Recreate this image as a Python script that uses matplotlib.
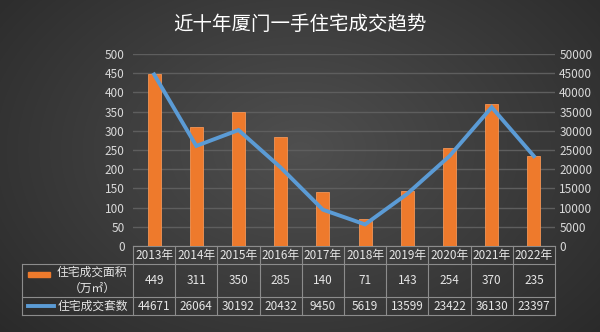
import numpy as np
import matplotlib
matplotlib.use("Agg")
import matplotlib.pyplot as plt
from matplotlib.lines import Line2D
from matplotlib.patches import Rectangle

plt.rcParams['font.family'] = ['Noto Sans CJK SC', 'DejaVu Sans']

years = ["2013年", "2014年", "2015年", "2016年", "2017年",
         "2018年", "2019年", "2020年", "2021年", "2022年"]
area = [449, 311, 350, 285, 140, 71, 143, 254, 370, 235]
units = [44671, 26064, 30192, 20432, 9450, 5619, 13599, 23422, 36130, 23397]
area_label = "住宅成交面积\n（万㎡）"
units_label = "住宅成交套数"
title = "近十年厦门一手住宅成交趋势"

W, H = 600, 332
fig = plt.figure(figsize=(W / 100, H / 100), dpi=100)

# radial dark background
yy, xx = np.mgrid[0:H, 0:W]
r = np.sqrt(((xx - W * 0.5) / (W * 0.6)) ** 2 + ((yy - H * 0.45) / (H * 0.75)) ** 2)
g = np.clip(0.31 - 0.13 * r, 0.15, 0.32)
bg = np.dstack([g, g, g])
bgax = fig.add_axes([0, 0, 1, 1])
bgax.imshow(bg, extent=[0, W, H, 0], aspect='auto')
bgax.set_xlim(0, W)
bgax.set_ylim(H, 0)
bgax.axis('off')

px0, px1 = 133, 555
py_top, py_bot = 54, 246
ax = fig.add_axes([px0 / W, 1 - py_bot / H, (px1 - px0) / W, (py_bot - py_top) / H])
ax.patch.set_alpha(0)
x = np.arange(len(years))
ax.bar(x, area, width=0.31, color='#EE7A2C', edgecolor='#F39556', linewidth=0.6, zorder=3)
ax.set_xlim(-0.5, len(years) - 0.5)
ax.set_ylim(0, 500)
ax.set_yticks(np.arange(0, 501, 50))
ax.yaxis.grid(True, color='#5e5e5e', linewidth=1.0, zorder=0)
ax.set_axisbelow(True)
ax.tick_params(axis='y', length=0, labelsize=8.5, labelcolor='#d9d9d9', pad=6)
ax.tick_params(axis='x', length=0, labelbottom=False)
for s in ax.spines.values():
    s.set_visible(False)

ax2 = ax.twinx()
ax2.plot(x, units, color='#5B9BD5', linewidth=2.8, zorder=4, solid_joinstyle='miter')
ax2.set_ylim(0, 50000)
ax2.set_yticks(np.arange(0, 50001, 5000))
ax2.tick_params(axis='y', length=0, labelsize=8.5, labelcolor='#d9d9d9', pad=3)
for s in ax2.spines.values():
    s.set_visible(False)

fig.text(0.5, 1 - 25 / H, title, ha='center', va='center', fontsize=14, color='white')

# data table under the plot
lc = '#8c8c8c'
colw = (px1 - px0) / len(years)
rows = [246, 264, 297, 315]
lx0 = 22

def hline(xa, xb, y):
    bgax.add_line(Line2D([xa, xb], [y, y], color=lc, linewidth=0.8))

def vline(xp, ya, yb):
    bgax.add_line(Line2D([xp, xp], [ya, yb], color=lc, linewidth=0.8))

hline(px0, px1, rows[0])
hline(lx0, px1, rows[1])
hline(lx0, px1, rows[2])
hline(lx0, px1, rows[3])
for i in range(len(years) + 1):
    vline(px0 + i * colw, rows[0], rows[3])
vline(lx0, rows[1], rows[3])

tc = '#e6e6e6'
for i, yr in enumerate(years):
    cx = px0 + (i + 0.5) * colw
    bgax.text(cx, (rows[0] + rows[1]) / 2, yr, ha='center', va='center', fontsize=8.5, color=tc)
    bgax.text(cx, (rows[1] + rows[2]) / 2, str(area[i]), ha='center', va='center', fontsize=8.5, color=tc)
    bgax.text(cx, (rows[2] + rows[3]) / 2, str(units[i]), ha='center', va='center', fontsize=8.5, color=tc)

# legend keys inside the table
bgax.add_patch(Rectangle((28, 272), 22, 5, color='#EE7A2C'))
bgax.text(92, (rows[1] + rows[2]) / 2, area_label, ha='center', va='center',
          fontsize=8.5, color=tc, linespacing=1.3)
bgax.add_line(Line2D([28, 54], [306, 306], color='#5B9BD5', linewidth=2.8))
bgax.text(93, (rows[2] + rows[3]) / 2, units_label, ha='center', va='center', fontsize=8.5, color=tc)

fig.savefig("out.png", dpi=100)
